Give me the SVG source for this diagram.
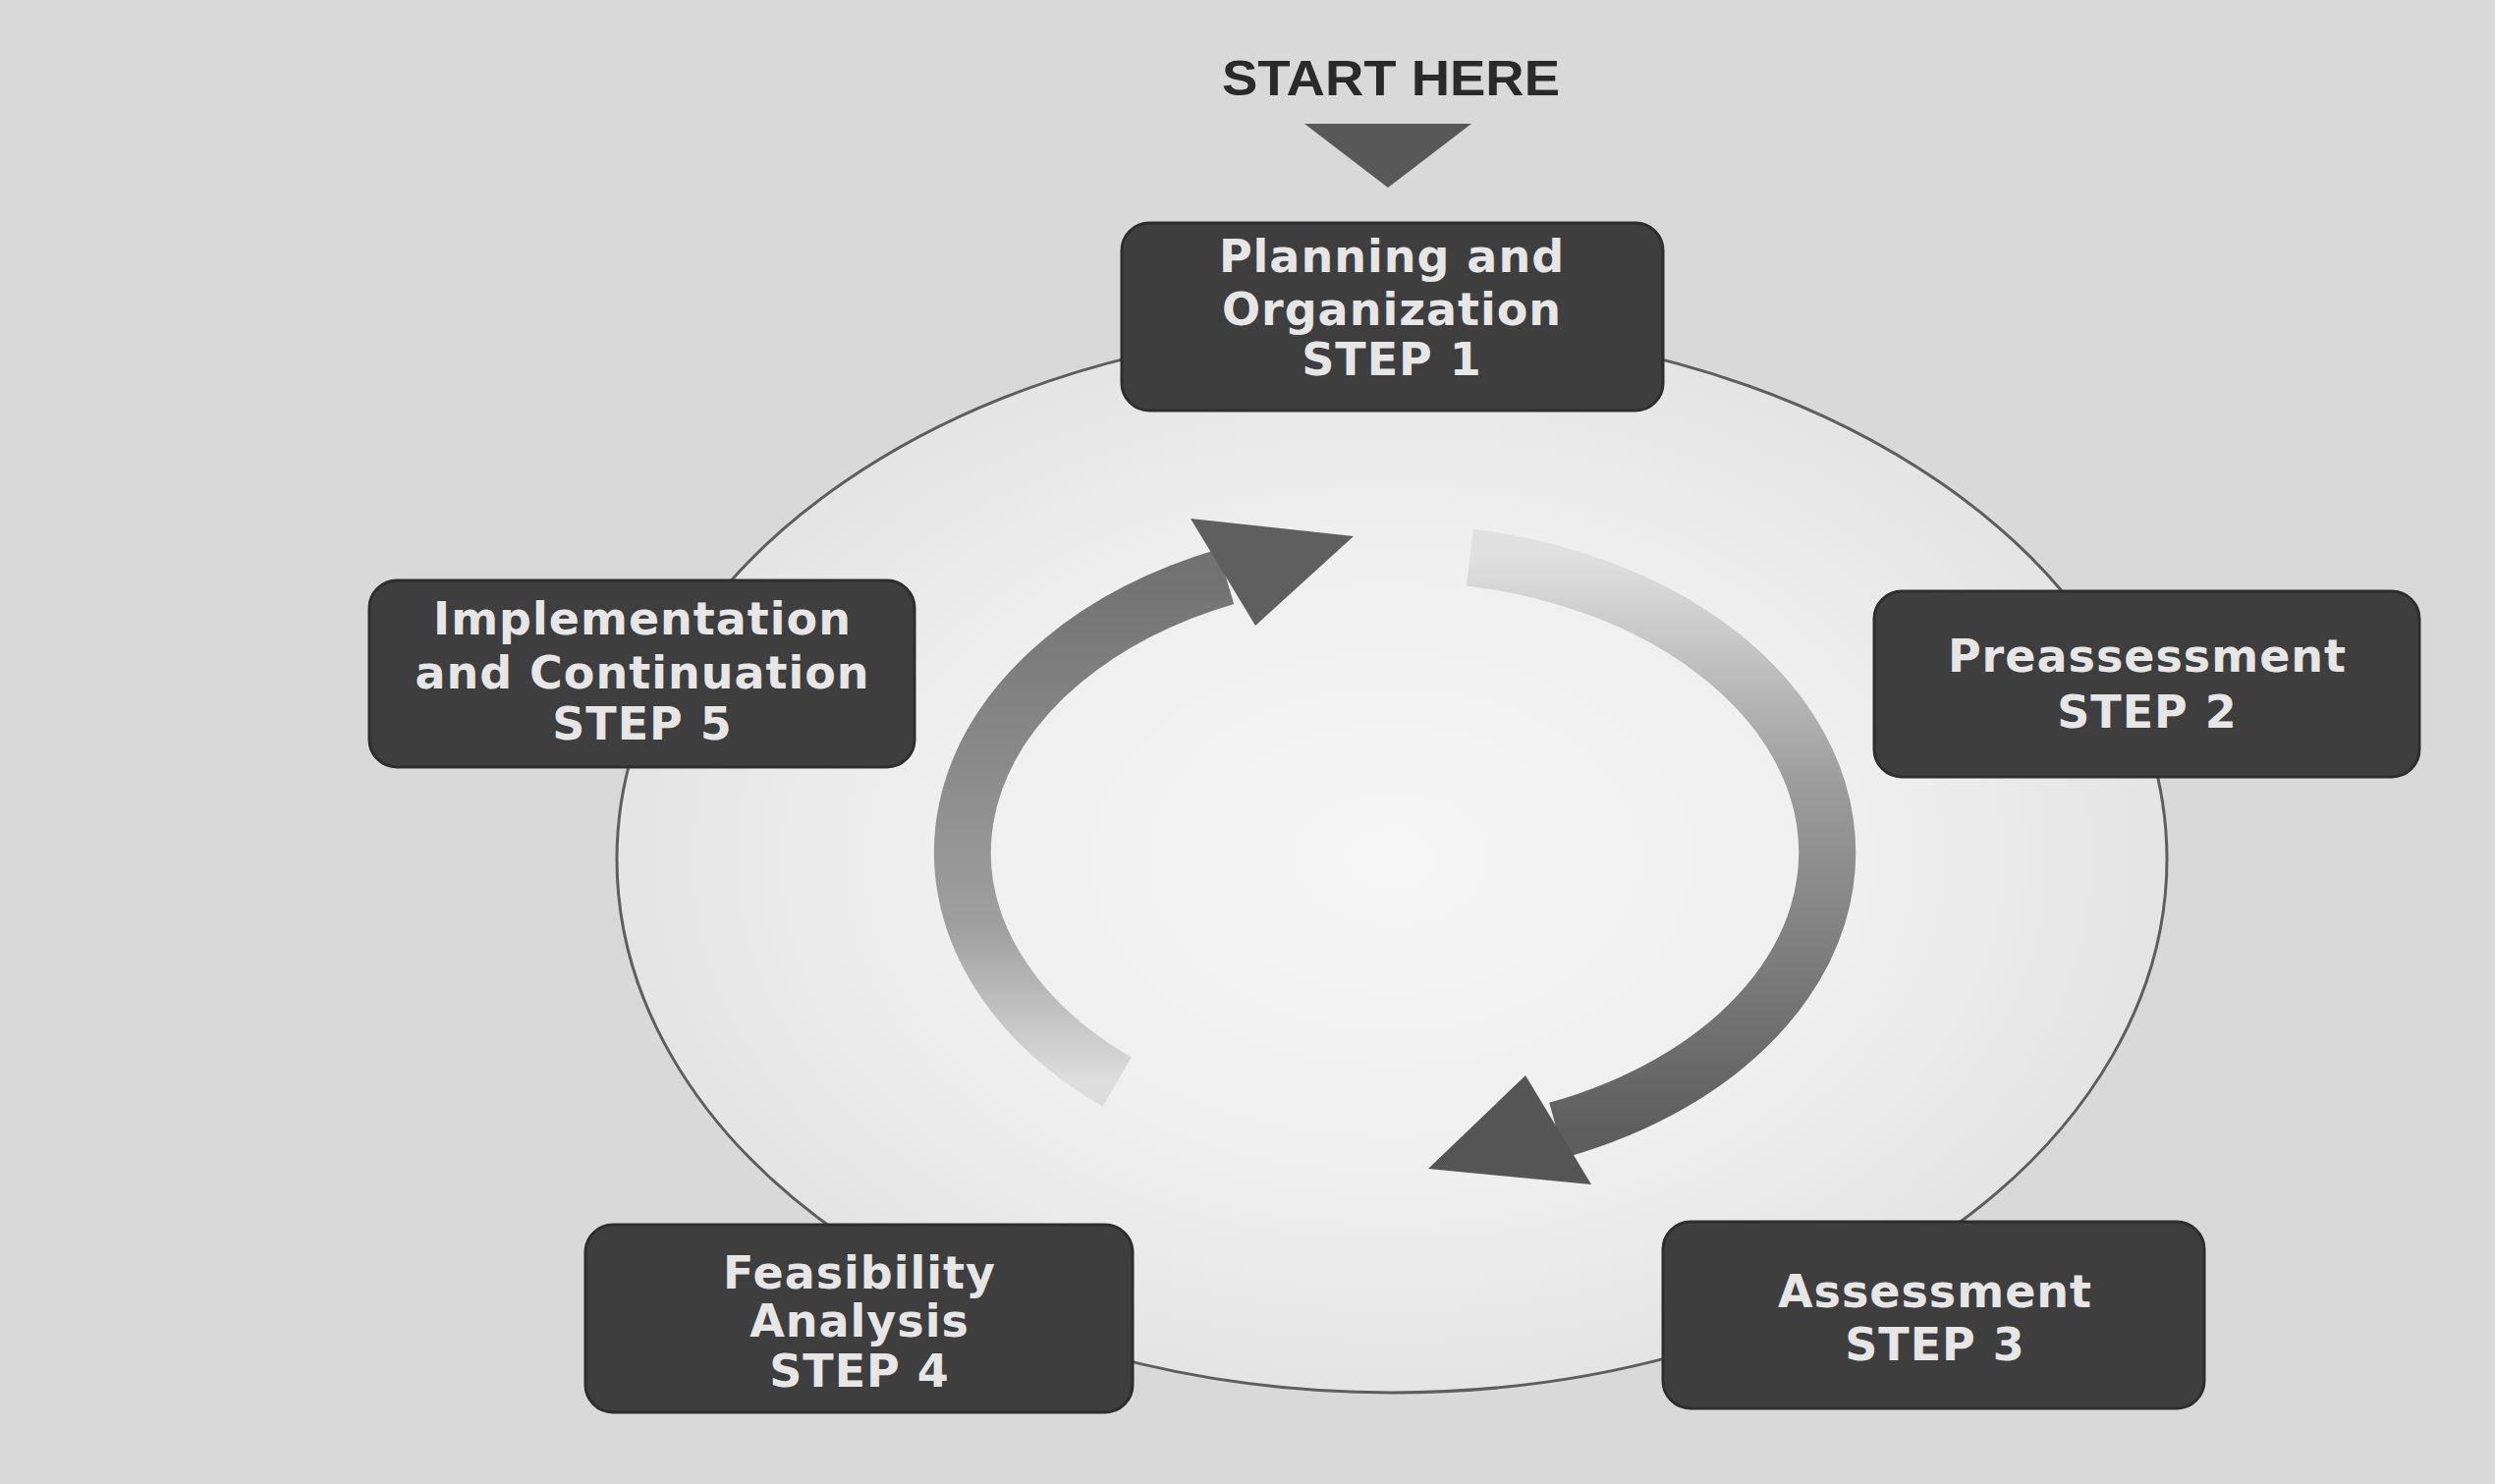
<svg xmlns="http://www.w3.org/2000/svg" width="2540" height="1511" viewBox="0 0 2540 1511">
  <defs>
    <radialGradient id="bgIn" cx="1417" cy="875" r="800" gradientUnits="userSpaceOnUse" gradientTransform="translate(1417 875) scale(1 0.69) translate(-1417 -875)">
      <stop offset="0" stop-color="#f6f6f6"/>
      <stop offset="0.6" stop-color="#efefef"/>
      <stop offset="1" stop-color="#e4e4e4"/>
    </radialGradient>
    <linearGradient id="gLeft" x1="0" y1="1100" x2="0" y2="587" gradientUnits="userSpaceOnUse">
      <stop offset="0" stop-color="#dddddd"/>
      <stop offset="0.3" stop-color="#a0a0a0"/>
      <stop offset="1" stop-color="#727272"/>
    </linearGradient>
    <linearGradient id="gRight" x1="0" y1="565" x2="0" y2="1150" gradientUnits="userSpaceOnUse">
      <stop offset="0" stop-color="#e0e0e0"/>
      <stop offset="0.4" stop-color="#9c9c9c"/>
      <stop offset="1" stop-color="#5e5e5e"/>
    </linearGradient>
    <style>
      .node rect { fill: #3e3e3e; stroke: #2e2e2e; stroke-width: 3; }
      .node text { fill: #e6e6e6; font-family: "DejaVu Sans", "Liberation Sans", sans-serif; font-weight: bold; font-size: 46px; text-anchor: middle; letter-spacing: 1px; }
      .ring { fill: url(#bgIn); stroke: #5e5e5e; stroke-width: 3; }
    </style>
  </defs>

  <rect x="0" y="0" width="2540" height="1511" fill="#d9d9d9"/>

  <g id="connectors">
    <ellipse class="ring" cx="1417" cy="875" rx="789" ry="543"/>
    <path d="M1137.2,1101.6 A440,305 0 0 1 1248,587.1" fill="none" stroke="url(#gLeft)" stroke-width="58"/>
    <polygon points="1212,528 1378,546 1278,637" fill="#5f5f5f"/>
    <path d="M1496.4,567.6 A440,305 0 0 1 1585,1150.8" fill="none" stroke="url(#gRight)" stroke-width="58"/>
    <polygon points="1553,1095 1620,1206 1454,1190" fill="#555555"/>
  </g>

  <g id="start">
    <text x="1416" y="97" font-family="Liberation Sans, Arial, sans-serif" font-weight="bold" font-size="50" text-anchor="middle" fill="#2a2a2a" textLength="344" lengthAdjust="spacingAndGlyphs">START HERE</text>
    <polygon points="1328,126 1498,126 1413,191" fill="#585858"/>
  </g>

  <g id="step1" class="node">
    <rect x="1142" y="227" width="551" height="191" rx="28"/>
    <text x="1417" y="277">Planning and</text>
    <text x="1417" y="331">Organization</text>
    <text x="1417" y="382">STEP 1</text>
  </g>

  <g id="step2" class="node">
    <rect x="1908" y="602" width="555" height="189" rx="28"/>
    <text x="2186" y="684">Preassessment</text>
    <text x="2186" y="741">STEP 2</text>
  </g>

  <g id="step3" class="node">
    <rect x="1693" y="1244" width="551" height="190" rx="28"/>
    <text x="1970" y="1331">Assessment</text>
    <text x="1970" y="1385">STEP 3</text>
  </g>

  <g id="step4" class="node">
    <rect x="596" y="1247" width="557" height="191" rx="28"/>
    <text x="875" y="1312">Feasibility</text>
    <text x="875" y="1361">Analysis</text>
    <text x="875" y="1412">STEP 4</text>
  </g>

  <g id="step5" class="node">
    <rect x="376" y="591" width="555" height="190" rx="28"/>
    <text x="654" y="646">Implementation</text>
    <text x="654" y="701">and Continuation</text>
    <text x="654" y="753">STEP 5</text>
  </g>
</svg>
